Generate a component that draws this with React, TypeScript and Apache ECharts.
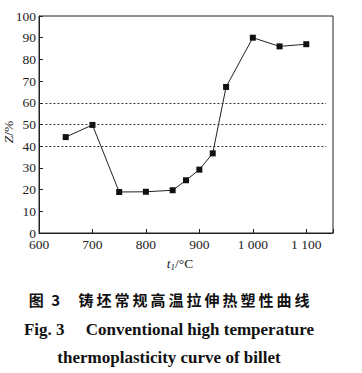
import React, { useEffect, useRef } from "react";
import * as echarts from "echarts";

const temps = [650, 700, 750, 800, 850, 875, 900, 925, 950, 1000, 1050, 1100];
const zValues = [44.2, 49.8, 18.9, 19.0, 19.7, 24.3, 29.2, 36.7, 67.3, 90.0, 86.0, 87.0];
const refLines = [40, 50, 60];
const xTicks = [600, 700, 800, 900, 1000, 1100];
const captionCN = "图 3　铸坯常规高温拉伸热塑性曲线";
const captionEN1 = "Fig. 3　 Conventional high temperature";
const captionEN2 = "thermoplasticity curve of billet";

const fmtX = (v: number) => {
  if (!xTicks.includes(v)) return "";
  return v >= 1000 ? `${Math.floor(v / 1000)} ${String(v % 1000).padStart(3, "0")}` : String(v);
};

const spaced = (s: string) => {
  const [head, tail] = s.split("　");
  return head.replace(" ", "\u2002") + "　 " + tail.split("").join("\u2009");
};

export default function App() {
  const ref = useRef<HTMLDivElement>(null);
  useEffect(() => {
    if (!ref.current) return;
    const chart = echarts.init(ref.current, undefined, { renderer: "svg" });
    const serif = "'Liberation Serif', 'DejaVu Serif', serif";
    chart.setOption({
      animation: false,
      backgroundColor: "#ffffff",
      grid: {
        left: 39,
        top: 16,
        right: 29,
        bottom: 140,
        outerBoundsMode: "none",
        containLabel: false,
        show: true,
        borderColor: "#222",
        borderWidth: 1,
        backgroundColor: "transparent",
      },
      xAxis: {
        type: "value",
        min: 600,
        max: 1150,
        interval: 100,
        axisLine: { lineStyle: { color: "#222", width: 1 } },
        axisTick: { inside: true, length: 4, lineStyle: { color: "#222" } },
        splitLine: { show: false },
        axisLabel: {
          color: "#222",
          fontFamily: serif,
          fontSize: 13.5,
          lineHeight: 11,
          margin: 6,
          formatter: fmtX,
        },
        name: "{i|t}{s|1}{n|/°C}",
        nameLocation: "middle",
        nameGap: 20,
        nameTextStyle: {
          padding: [0, 12, 0, 0],
          rich: {
            i: { fontFamily: serif, fontStyle: "italic", fontSize: 13.5, color: "#222" },
            s: { fontFamily: serif, fontStyle: "italic", fontSize: 9, color: "#222", verticalAlign: "bottom", padding: [8, 0, 0, 0] },
            n: { fontFamily: serif, fontSize: 13.5, color: "#222" },
          },
        },
      },
      yAxis: {
        type: "value",
        min: 0,
        max: 100,
        interval: 10,
        axisLine: { show: true, lineStyle: { color: "#222", width: 1 } },
        axisTick: { show: true, inside: true, length: 4, lineStyle: { color: "#222" } },
        splitLine: { show: false },
        axisLabel: { color: "#222", fontFamily: serif, fontSize: 13.5, lineHeight: 11, margin: 3 },
      },
      series: [
        {
          type: "line",
          data: temps.map((t, i) => [t, zValues[i]]),
          symbol: "rect",
          symbolSize: 6,
          lineStyle: { color: "#222", width: 1 },
          itemStyle: { color: "#111" },
          markLine: {
            silent: true,
            symbol: "none",
            label: { show: false },
            lineStyle: { color: "#333", type: [2, 2], width: 1 },
            data: refLines.map((y) => [
              { coord: [612, y] },
              { coord: [1137, y] },
            ]),
          },
        },
      ],
      graphic: [
        {
          type: "text",
          x: 8,
          y: 132,
          rotation: Math.PI / 2,
          style: {
            text: "{i|Z}{n|/%}",
            align: "center",
            verticalAlign: "middle",
            rich: {
              i: { fontFamily: serif, fontStyle: "italic", fontSize: 13.5, fill: "#222" },
              n: { fontFamily: serif, fontSize: 13.5, fill: "#222" },
            },
          },
        },
        {
          type: "text",
          x: 169,
          y: 299,
          style: {
            text: spaced(captionCN),
            align: "center",
            verticalAlign: "middle",
            fontFamily: "'Noto Sans CJK SC', sans-serif",
            fontWeight: "bold",
            fontSize: 15,
            fill: "#111",
          },
        },
        {
          type: "text",
          x: 169,
          y: 329,
          style: {
            text: captionEN1,
            align: "center",
            verticalAlign: "middle",
            fontFamily: serif,
            fontWeight: "bold",
            fontSize: 17,
            fill: "#111",
          },
        },
        {
          type: "text",
          x: 169,
          y: 357,
          style: {
            text: captionEN2,
            align: "center",
            verticalAlign: "middle",
            fontFamily: serif,
            fontWeight: "bold",
            fontSize: 17,
            fill: "#111",
          },
        },
      ],
    });
    return () => chart.dispose();
  }, []);
  return (
    <div
      ref={ref}
      style={{ position: "fixed", left: 0, top: 0, width: 362, height: 373 }}
    />
  );
}
